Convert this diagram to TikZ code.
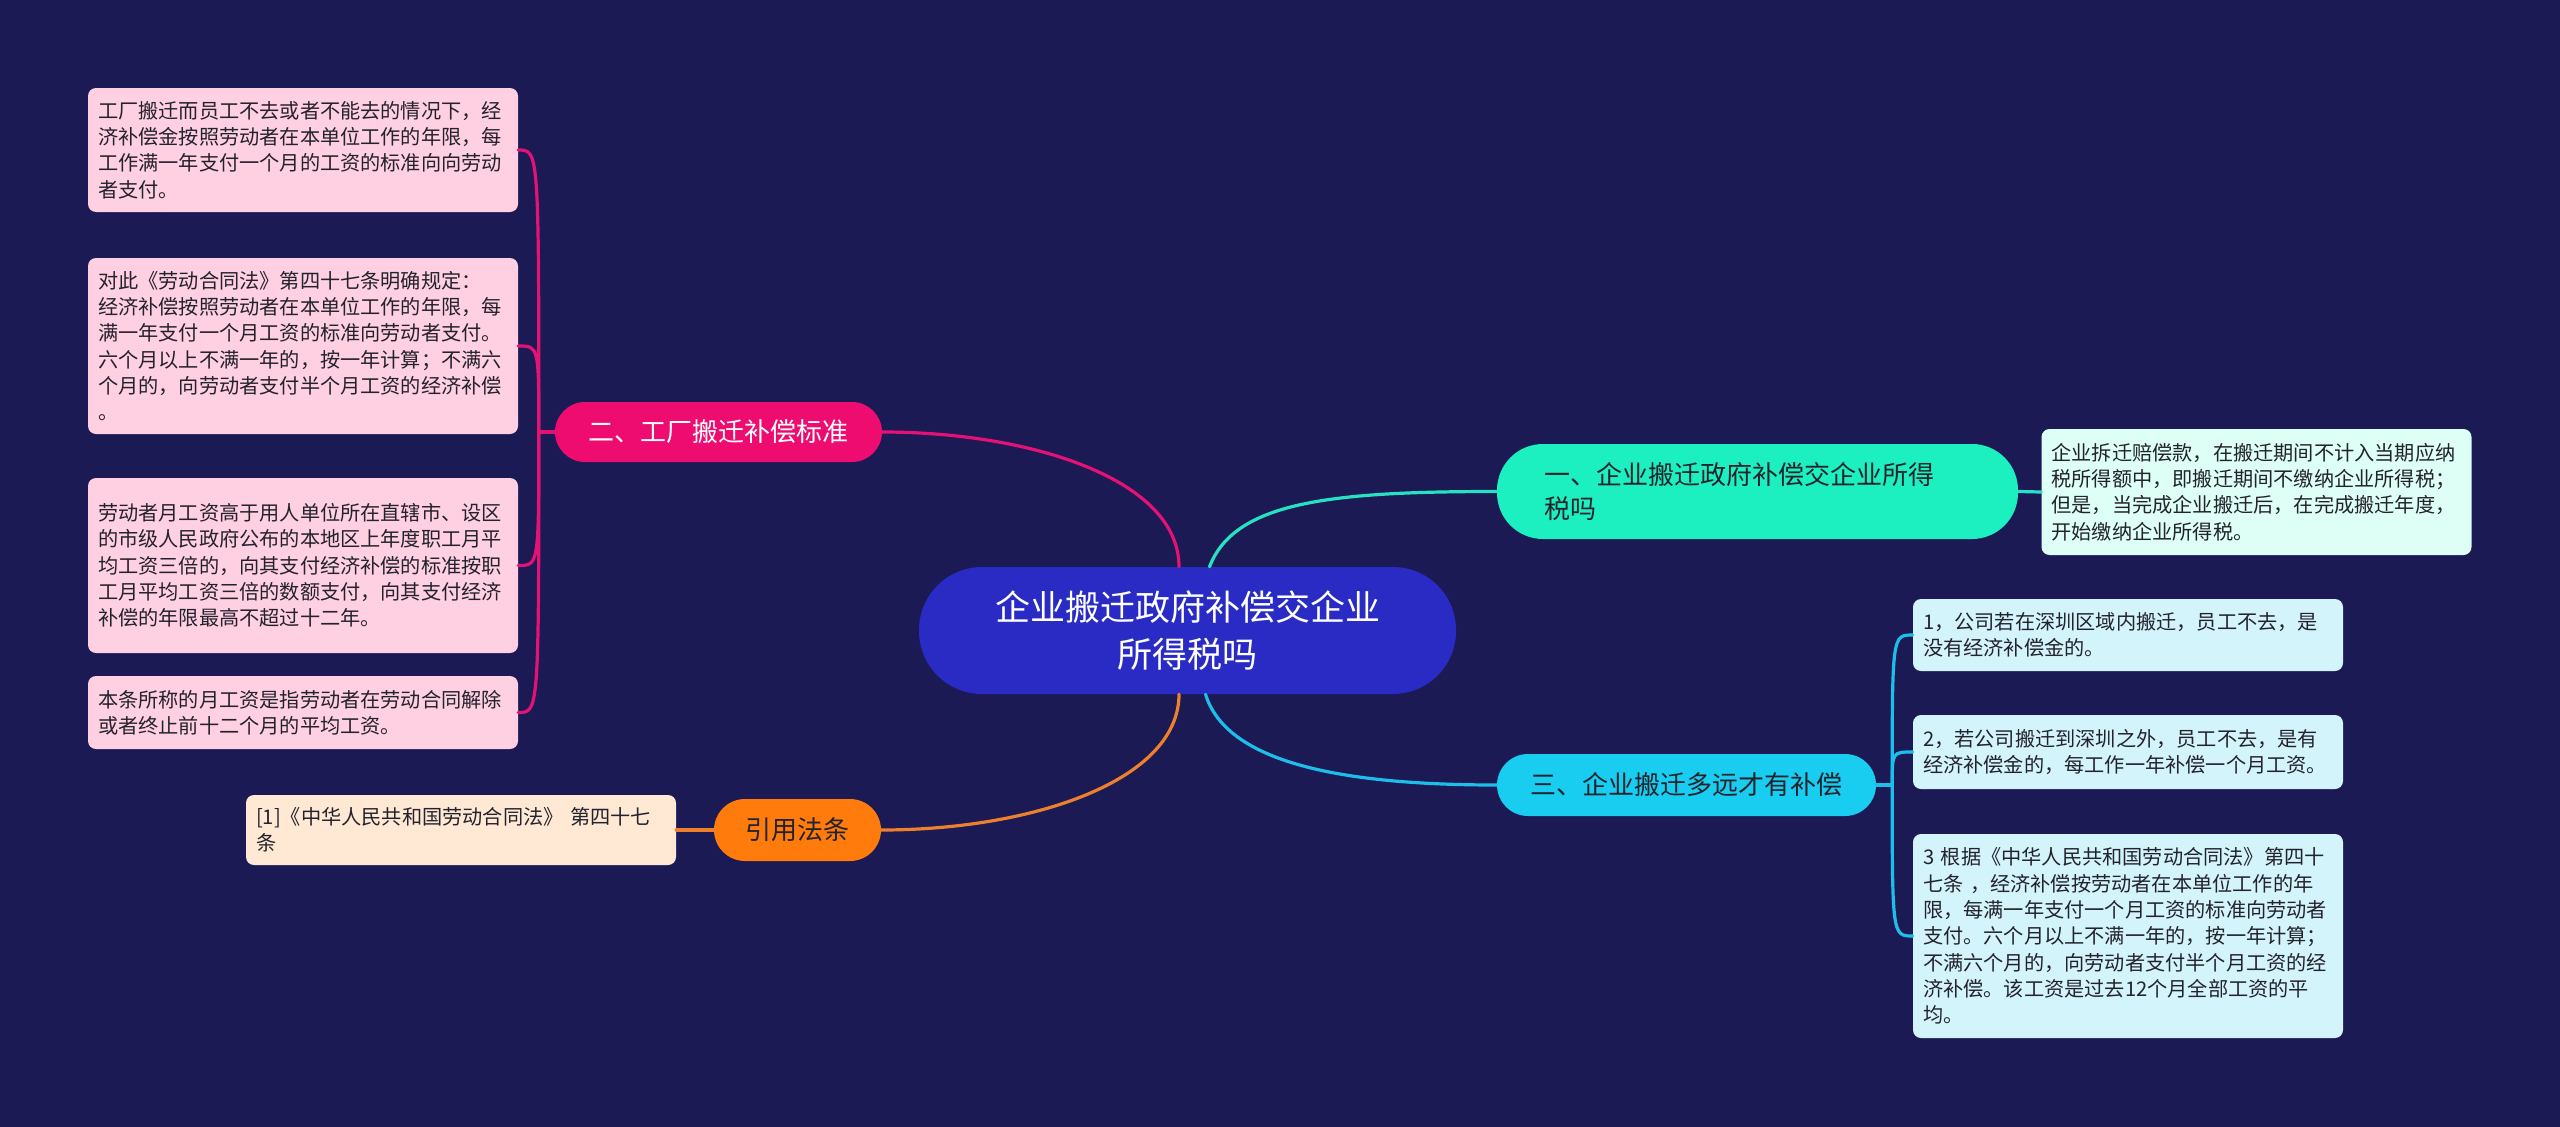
\documentclass[tikz,border=0pt]{standalone}
\usepackage{fontspec}
\setmainfont{Noto Sans CJK SC}
\definecolor{bg}{RGB}{27,26,84}
\definecolor{pinkline}{RGB}{228,18,118}
\definecolor{pinkfill}{RGB}{238,12,112}
\definecolor{leafpink}{RGB}{255,207,226}
\definecolor{tealfill}{RGB}{28,240,192}
\definecolor{tealline}{RGB}{40,225,195}
\definecolor{leafmint}{RGB}{222,255,246}
\definecolor{cyanfill}{RGB}{24,205,240}
\definecolor{cyanline}{RGB}{30,190,235}
\definecolor{leafcyan}{RGB}{212,244,252}
\definecolor{orangefill}{RGB}{255,124,12}
\definecolor{orangeline}{RGB}{236,128,45}
\definecolor{leafpeach}{RGB}{255,233,212}
\definecolor{rootfill}{RGB}{41,43,196}
\definecolor{darktext}{RGB}{35,35,45}
\tikzset{
  leafbox/.style={draw=none, rounded corners=8pt, inner xsep=10pt, inner ysep=4pt,
    text width=410pt, align=left, text=darktext,
    font=\fontsize{20.2}{26.3}\selectfont, minimum width=430pt},
  branchbox/.style={draw=none, inner xsep=20pt, inner ysep=4pt,
    font=\fontsize{26}{34}\selectfont},
  conn/.style={line width=3.2pt, line cap=round},
}
\begin{document}
\begin{tikzpicture}[x=1pt,y=-1pt]
\fill[bg] (0,0) rectangle (2560,1127);
\useasboundingbox (0,0) rectangle (2560,1127);

% root
\node[draw=none, fill=rootfill, rounded corners=63pt, minimum width=537pt, minimum height=127pt,
  text=white, align=center, font=\fontsize{35}{47}\selectfont] (root) at (1187.5,630.5)
  {企业搬迁政府补偿交企业\\所得税吗};

% branches
\node[branchbox, fill=pinkfill, text=white, rounded corners=30pt, minimum width=327pt, minimum height=60pt]
  (b2) at (718.5,432) {二、工厂搬迁补偿标准};
\node[branchbox, fill=tealfill, text=darktext, rounded corners=46pt, minimum width=521pt, minimum height=95pt,
  inner xsep=47pt, text width=427pt, align=left]
  (b1) at (1757.5,491.5) {一、企业搬迁政府补偿交企业所得\\税吗};
\node[branchbox, fill=cyanfill, text=darktext, rounded corners=31pt, minimum width=379pt, minimum height=62pt]
  (b3) at (1686.5,785) {三、企业搬迁多远才有补偿};
\node[branchbox, fill=orangefill, text=darktext, rounded corners=31pt, minimum width=167pt, minimum height=62pt]
  (b4) at (797.5,830) {引用法条};

% left leaves (pink)
\node[leafbox, fill=leafpink, minimum height=124pt] (l1) at (303,150)
  {工厂搬迁而员工不去或者不能去的情况下，经\\济补偿金按照劳动者在本单位工作的年限，每\\工作满一年支付一个月的工资的标准向向劳动\\者支付。};
\node[leafbox, fill=leafpink, minimum height=176pt] (l2) at (303,346)
  {对此《劳动合同法》第四十七条明确规定：\\经济补偿按照劳动者在本单位工作的年限，每\\满一年支付一个月工资的标准向劳动者支付。\\六个月以上不满一年的，按一年计算；不满六\\个月的，向劳动者支付半个月工资的经济补偿\\。};
\node[leafbox, fill=leafpink, minimum height=175pt] (l3) at (303,565.5)
  {劳动者月工资高于用人单位所在直辖市、设区\\的市级人民政府公布的本地区上年度职工月平\\均工资三倍的，向其支付经济补偿的标准按职\\工月平均工资三倍的数额支付，向其支付经济\\补偿的年限最高不超过十二年。};
\node[leafbox, fill=leafpink, minimum height=73pt] (l4) at (303,712.5)
  {本条所称的月工资是指劳动者在劳动合同解除\\或者终止前十二个月的平均工资。};

% reference leaf
\node[leafbox, fill=leafpeach, minimum height=70pt] (rf) at (461,830)
  {[1]《中华人民共和国劳动合同法》 第四十七\\条};

% right leaves
\node[leafbox, fill=leafmint, minimum height=126pt] (r1) at (2256.5,492)
  {企业拆迁赔偿款，在搬迁期间不计入当期应纳\\税所得额中，即搬迁期间不缴纳企业所得税；\\但是，当完成企业搬迁后，在完成搬迁年度，\\开始缴纳企业所得税。};
\node[leafbox, fill=leafcyan, minimum height=72pt] (r3a) at (2128,635)
  {1，公司若在深圳区域内搬迁，员工不去，是\\没有经济补偿金的。};
\node[leafbox, fill=leafcyan, minimum height=74pt] (r3b) at (2128,752)
  {2，若公司搬迁到深圳之外，员工不去，是有\\经济补偿金的，每工作一年补偿一个月工资。};
\node[leafbox, fill=leafcyan, minimum height=204pt] (r3c) at (2128,936)
  {3 根据《中华人民共和国劳动合同法》第四十\\七条 ，经济补偿按劳动者在本单位工作的年\\限，每满一年支付一个月工资的标准向劳动者\\支付。六个月以上不满一年的，按一年计算；\\不满六个月的，向劳动者支付半个月工资的经\\济补偿。该工资是过去12个月全部工资的平\\均。};

% root connectors
\draw[conn, pinkline] ([xshift=-8.5pt]root.north) .. controls +(0,-87) and +(150,0) .. (b2.east);
\draw[conn, tealline] ([xshift=22pt]root.north) .. controls +(25,-65) and +(-167,0) .. (b1.west);
\draw[conn, cyanline] ([xshift=18pt]root.south) .. controls +(20,65) and +(-167,0) .. (b3.west);
\draw[conn, orangeline] ([xshift=-8.5pt]root.south) .. controls +(0,87) and +(150,0) .. (b4.east);

% branch 二 bracket
\coordinate (j2) at ([xshift=-16pt]b2.west);
\draw[conn, pinkline] (b2.west) -- (j2);
\foreach \n in {l1,l2,l3,l4}{
  \draw[conn, pinkline] (j2) .. controls (j2 |- \n.east) and (j2 |- \n.east) .. (\n.east);
}

% branch 三 bracket
\coordinate (j3) at ([xshift=16pt]b3.east);
\draw[conn, cyanline] (b3.east) -- (j3);
\foreach \n in {r3a,r3b,r3c}{
  \draw[conn, cyanline] (j3) .. controls (j3 |- \n.west) and (j3 |- \n.west) .. (\n.west);
}

% straight links
\draw[conn, tealline] (b1.east) -- (r1.west);
\draw[conn, orangeline] (b4.west) -- (rf.east);
\end{tikzpicture}
\end{document}
